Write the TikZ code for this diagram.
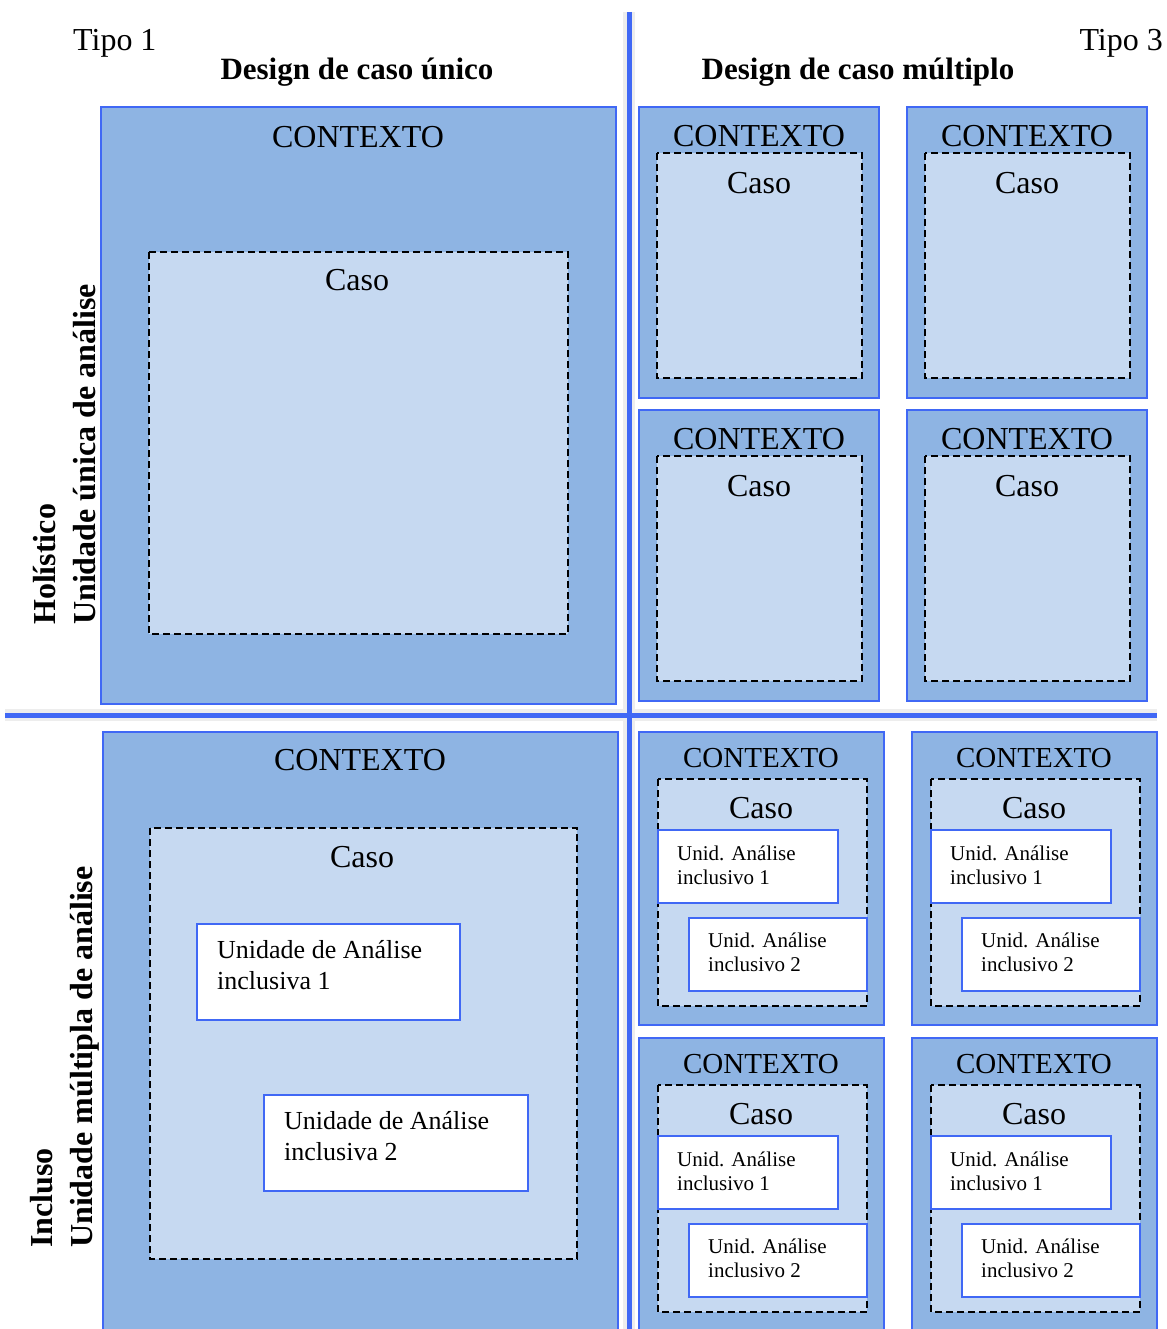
\documentclass[tikz,border=0pt]{standalone}
\usepackage{fontspec}
\setmainfont{Liberation Serif}
\definecolor{ctxfill}{RGB}{142,180,227}
\definecolor{casefill}{RGB}{198,217,241}
\definecolor{edgeblue}{RGB}{64,104,245}

\begin{document}
\begin{tikzpicture}[x=1pt,y=-1pt,
    ctxbox/.style={fill=ctxfill,draw=edgeblue,line width=1.5pt},
    casebox/.style={fill=casefill,draw=black,line width=1.5pt,dash pattern=on 7pt off 4pt},
    unitbox/.style={fill=white,draw=edgeblue,line width=1.5pt},
    bigtext/.style={inner sep=0pt,font=\fontsize{32}{38}\selectfont},
    smalltext/.style={inner sep=0pt,font=\fontsize{29}{34}\selectfont},
    headtext/.style={inner sep=0pt,font=\fontsize{31}{38}\selectfont\bfseries},
    unittext/.style={align=left,inner sep=0pt,font=\fontsize{26}{31}\selectfont},
    tinytext/.style={align=left,inner sep=0pt,font=\fontsize{21}{24}\selectfont},
    sidetext/.style={rotate=90,align=left,inner sep=0pt,font=\fontsize{32}{40}\selectfont\bfseries},
    sep/.style={draw=edgeblue,line width=5pt},
    halo/.style={draw=black!7,line width=12pt}]

    \useasboundingbox (0,0) rectangle (1166,1329);

    \coordinate (vtop) at (629,12);
    \coordinate (vbot) at (629,1329);
    \coordinate (hleft) at (5,715);
    \coordinate (hright) at (1157,715);

    % headings
    \node[bigtext,anchor=base west] (tipoA) at (73,51) {Tipo 1};
    \node[bigtext,anchor=base east] (tipoC) at (1163,51) {Tipo 3};
    \node[headtext,anchor=base] (unico) at (357,80) {Design de caso único};
    \node[headtext,anchor=base] (multiplo) at (858,80) {Design de caso múltiplo};

    \node[sidetext,anchor=west] (holist) at (65,625) {Holístico\\Unidade única de análise};
    \node[sidetext,anchor=west] (incluso) at (65,1248) {Incluso\\Unidade múltipla de análise};

    % single case, holistic
    \draw[ctxbox] (101,107) rectangle (616,704);
    \node[bigtext] (ctxA) at (358,137) {CONTEXTO};
    \draw[casebox] (149,252) rectangle (568,634);
    \node[bigtext] (casoA) at (357,280) {Caso};

    % single case, embedded
    \draw[ctxbox] (103,732) rectangle (618,1335);
    \node[bigtext] (ctxB) at (360,760) {CONTEXTO};
    \draw[casebox] (150,828) rectangle (577,1259);
    \node[bigtext] (casoB) at (362,857) {Caso};
    \draw[unitbox] (197,924) rectangle (460,1020);
    \node[unittext,anchor=west] (unidB1) at (217,965) {Unidade de Análise\\inclusiva 1};
    \draw[unitbox] (264,1095) rectangle (528,1191);
    \node[unittext,anchor=west] (unidB2) at (284,1136) {Unidade de Análise\\inclusiva 2};

    % multiple cases, holistic
    \foreach \x/\y/\n in {639/107/a, 907/107/b, 639/410/c, 907/410/d}{
        \draw[ctxbox] (\x,\y) rectangle +(240,291);
        \draw[casebox] (\x+18,\y+46) rectangle (\x+223,\y+271);
        \node[bigtext] (ctx\n) at (\x+120,\y+29) {CONTEXTO};
        \node[bigtext] (caso\n) at (\x+120,\y+76) {Caso};
    }

    % multiple cases, embedded
    \foreach \x/\y/\n in {639/732/e, 912/732/f, 639/1038/g, 912/1038/h}{
        \draw[ctxbox] (\x,\y) rectangle +(245,293);
        \draw[casebox] (\x+19,\y+47) rectangle (\x+228,\y+274);
        \node[smalltext] (ctx\n) at (\x+122,\y+26) {CONTEXTO};
        \node[bigtext] (caso\n) at (\x+122,\y+76) {Caso};
        \draw[unitbox] (\x+19,\y+98) rectangle (\x+199,\y+171);
        \node[tinytext,anchor=west] (unid\n1) at (\x+38,\y+133) {Unid. Análise\\inclusivo 1};
        \draw[unitbox] (\x+50,\y+186) rectangle (\x+228,\y+259);
        \node[tinytext,anchor=west] (unid\n2) at (\x+69,\y+220) {Unid. Análise\\inclusivo 2};
    }

    % separators
    \draw[halo] (vtop) -- (vbot);
    \draw[halo] (hleft) -- (hright);
    \draw[sep] (vtop) -- (vbot);
    \draw[sep] (hleft) -- (hright);
\end{tikzpicture}
\end{document}
